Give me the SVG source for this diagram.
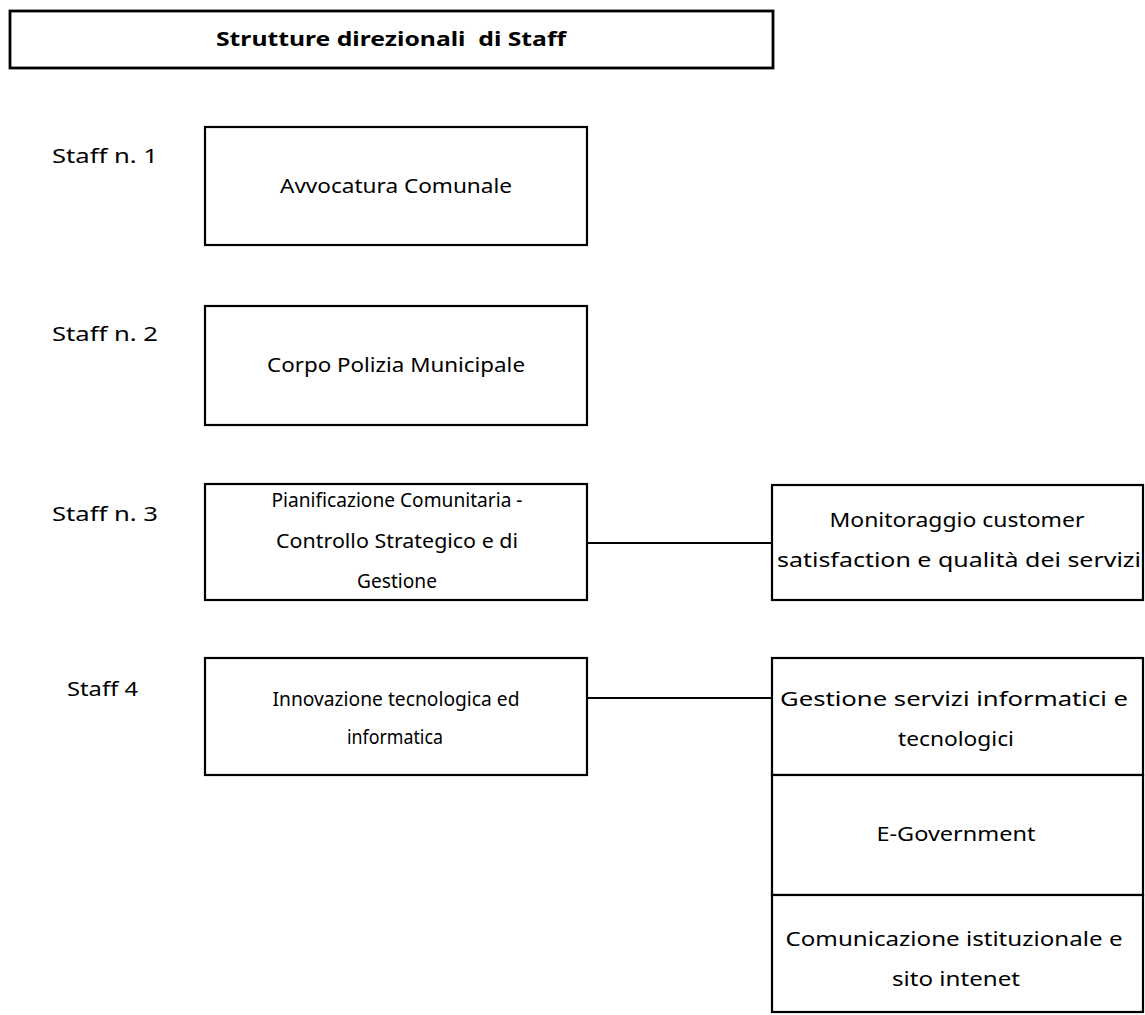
<svg xmlns="http://www.w3.org/2000/svg" width="1145" height="1015" viewBox="0 0 1145 1015">
<style>
.box{fill:#fff;stroke:#000;stroke-width:2.2}
.t{font-family:"Comic Sans MS","Noto Sans","DejaVu Sans",sans-serif;font-size:19px;fill:#000;text-anchor:middle}
.lbl{font-family:"Comic Sans MS","Noto Sans","DejaVu Sans",sans-serif;font-size:19px;fill:#000}
.b{font-weight:bold;white-space:pre}
.conn{stroke:#000;stroke-width:2;fill:none}
</style>
<rect width="1145" height="1015" fill="#fff"/>
<g id="title">
<rect class="box" x="10" y="11" width="763" height="57" style="stroke-width:2.8"/>
<text class="t b" x="391" y="46" textLength="350" lengthAdjust="spacingAndGlyphs" xml:space="preserve">Strutture direzionali  di Staff</text>
</g>
<g id="labels">
<text class="lbl" x="52" y="163" textLength="106" lengthAdjust="spacingAndGlyphs">Staff n. 1</text>
<text class="lbl" x="52" y="341" textLength="106" lengthAdjust="spacingAndGlyphs">Staff n. 2</text>
<text class="lbl" x="52" y="521" textLength="106" lengthAdjust="spacingAndGlyphs">Staff n. 3</text>
<text class="lbl" x="67" y="696" textLength="71" lengthAdjust="spacingAndGlyphs">Staff 4</text>
</g>
<g id="connectors">
<line class="conn" x1="587" y1="543" x2="772" y2="543"/>
<line class="conn" x1="587" y1="698" x2="772" y2="698"/>
</g>
<g id="staff1">
<rect class="box" x="205" y="127" width="382" height="118"/>
<text class="t" x="396" y="193" textLength="232" lengthAdjust="spacingAndGlyphs">Avvocatura Comunale</text>
</g>
<g id="staff2">
<rect class="box" x="205" y="306" width="382" height="119"/>
<text class="t" x="396" y="372" textLength="258" lengthAdjust="spacingAndGlyphs">Corpo Polizia Municipale</text>
</g>
<g id="staff3">
<rect class="box" x="205" y="484" width="382" height="116"/>
<text class="t" x="397" y="507" textLength="251" lengthAdjust="spacingAndGlyphs">Pianificazione Comunitaria -</text>
<text class="t" x="397" y="548" textLength="242" lengthAdjust="spacingAndGlyphs">Controllo Strategico e di</text>
<text class="t" x="397" y="588" textLength="80" lengthAdjust="spacingAndGlyphs">Gestione</text>
</g>
<g id="monitoraggio">
<rect class="box" x="772" y="485" width="371" height="115"/>
<text class="t" x="957" y="527" textLength="255" lengthAdjust="spacingAndGlyphs">Monitoraggio customer</text>
<text class="t" x="959" y="567" textLength="364" lengthAdjust="spacingAndGlyphs">satisfaction e qualità dei servizi</text>
</g>
<g id="staff4">
<rect class="box" x="205" y="658" width="382" height="117"/>
<text class="t" x="396" y="706" textLength="247" lengthAdjust="spacingAndGlyphs">Innovazione tecnologica ed</text>
<text class="t" x="395" y="744" textLength="96" lengthAdjust="spacingAndGlyphs">informatica</text>
</g>
<g id="gestione">
<rect class="box" x="772" y="658" width="371" height="117"/>
<text class="t" x="954" y="706" textLength="348" lengthAdjust="spacingAndGlyphs">Gestione servizi informatici e</text>
<text class="t" x="956" y="746" textLength="116" lengthAdjust="spacingAndGlyphs">tecnologici</text>
</g>
<g id="egov">
<rect class="box" x="772" y="775" width="371" height="120"/>
<text class="t" x="956" y="841" textLength="159" lengthAdjust="spacingAndGlyphs">E-Government</text>
</g>
<g id="comunicazione">
<rect class="box" x="772" y="895" width="371" height="117"/>
<text class="t" x="954" y="946" textLength="337" lengthAdjust="spacingAndGlyphs">Comunicazione istituzionale e</text>
<text class="t" x="956" y="986" textLength="128" lengthAdjust="spacingAndGlyphs">sito intenet</text>
</g>
</svg>
